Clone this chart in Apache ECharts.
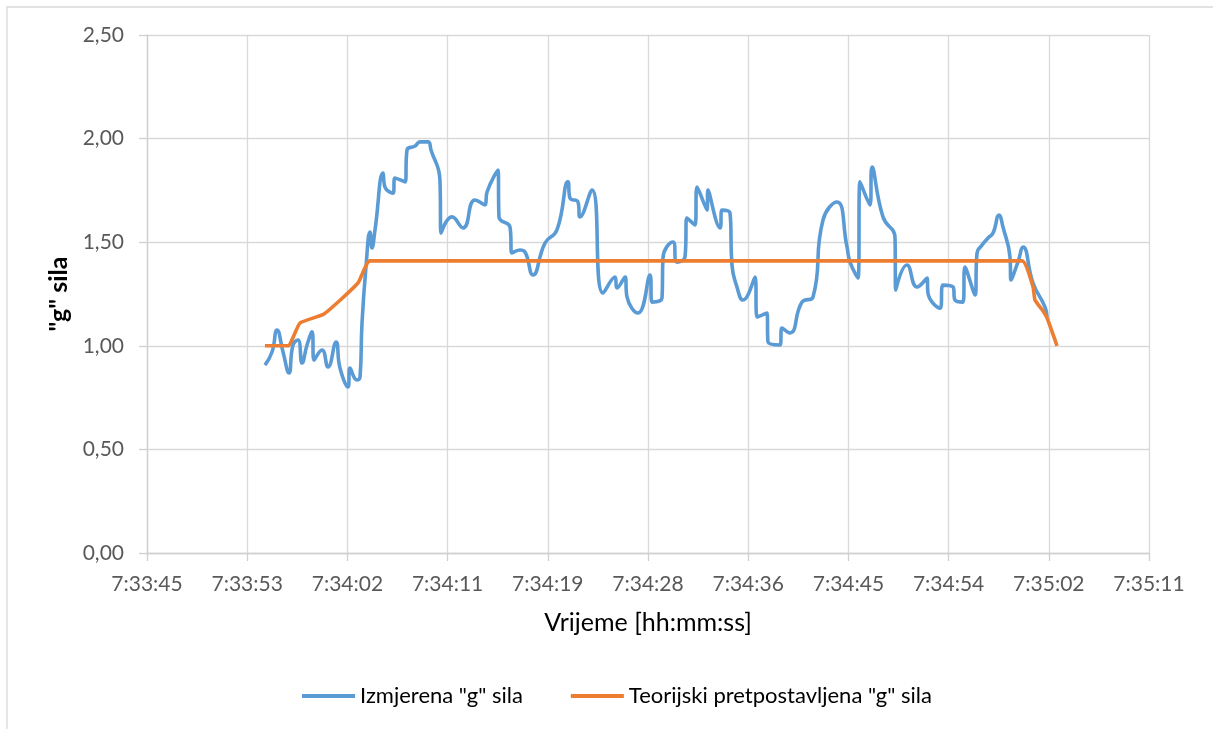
<!DOCTYPE html>
<html>
<head>
<meta charset="utf-8">
<script src="https://cdn.jsdelivr.net/npm/echarts@6/dist/echarts.min.js"></script>
<style>
  html, body { margin: 0; padding: 0; background: #fff; }
  #chart { width: 1213px; height: 729px; }
</style>
</head>
<body>
<div id="chart"></div>
<script>
// vrijeme u sekundama od 7:33:44.64 (pocetak osi)
var tickLabels = ['7:33:45', '7:33:53', '7:34:02', '7:34:11', '7:34:19', '7:34:28',
  '7:34:36', '7:34:45', '7:34:54', '7:35:02', '7:35:11'];

var measuredTime = [10.17, 10.78, 11.21, 11.73, 12.24, 12.59, 13.02, 13.37, 13.80, 14.23,
  14.40, 15.09, 15.61, 16.30, 16.64, 17.33, 17.50, 18.11, 18.37, 18.54,
  18.88, 19.23, 19.40, 19.66, 20.35, 20.52, 21.21, 21.38, 22.25, 22.42,
  23.11, 23.54, 24.23, 24.49, 25.26, 25.35, 26.30, 27.25, 28.28, 29.15,
  29.32, 30.27, 30.35, 31.30, 31.47, 32.16, 32.59, 33.28, 34.32, 35.35,
  36.30, 36.47, 37.16, 37.34, 38.37, 39.32, 40.35, 40.53, 41.22, 41.39,
  42.34, 43.37, 43.55, 44.41, 44.49, 45.36, 45.70, 46.39, 46.56, 47.25,
  47.43, 48.29, 48.37, 49.41, 49.58, 50.27, 50.44, 50.87, 51.39, 52.43,
  52.60, 53.46, 53.55, 54.58, 54.75, 55.44, 56.48, 57.43, 58.29, 59.50,
  60.36, 60.62, 61.31, 61.48, 62.34, 62.52, 63.46, 64.50, 64.55, 65.53,
  66.40, 67.26, 67.34, 68.38, 68.64, 69.50, 69.67, 70.36, 70.53, 71.40,
  71.57, 72.00, 72.52, 72.95, 73.47, 73.81, 74.41, 74.50, 75.10, 75.54,
  76.40, 77.43, 77.61];
var measuredG = [0.907, 0.970, 1.076, 0.970, 0.869, 1.004, 1.028, 0.917, 1.004, 1.067,
  0.931, 0.980, 0.898, 1.018, 0.893, 0.801, 0.893, 0.835, 0.849, 1.110,
  1.380, 1.549, 1.472, 1.559, 1.834, 1.766, 1.737, 1.810, 1.791, 1.945,
  1.964, 1.984, 1.984, 1.945, 1.800, 1.544, 1.622, 1.569, 1.704, 1.680,
  1.742, 1.848, 1.622, 1.573, 1.448, 1.462, 1.453, 1.342, 1.496, 1.559,
  1.791, 1.713, 1.694, 1.622, 1.752, 1.255, 1.332, 1.279, 1.332, 1.236,
  1.158, 1.342, 1.211, 1.231, 1.424, 1.501, 1.404, 1.429, 1.617, 1.583,
  1.766, 1.655, 1.752, 1.569, 1.655, 1.641, 1.390, 1.284, 1.221, 1.332,
  1.139, 1.158, 1.018, 1.004, 1.086, 1.062, 1.211, 1.236, 1.607, 1.694,
  1.477, 1.404, 1.327, 1.791, 1.680, 1.863, 1.622, 1.520, 1.269, 1.390,
  1.284, 1.327, 1.255, 1.182, 1.293, 1.284, 1.221, 1.211, 1.380, 1.245,
  1.448, 1.486, 1.520, 1.544, 1.631, 1.573, 1.429, 1.318, 1.404, 1.477,
  1.303, 1.187, 1.139];

var theoryTime = [10.17, 12.16, 13.19, 15.26, 18.19, 19.23, 75.45, 76.40, 76.57, 77.26, 77.61, 78.47];
var theoryG = [1.00, 1.00, 1.11, 1.153, 1.303, 1.41, 1.41, 1.284, 1.221, 1.168, 1.134, 1.00];

function pairs(xs, ys) {
  return xs.map(function (x, i) { return [x, ys[i]]; });
}

var myChart = echarts.init(document.getElementById('chart'));
myChart.setOption({
  animation: false,
  textStyle: { fontFamily: 'Lato' },
  graphic: [{
    type: 'rect',
    shape: { x: 7, y: 7, width: 1400, height: 900 },
    style: { fill: null, stroke: '#d9d9d9', lineWidth: 1.3 },
    silent: true
  }],
  grid: { left: 147, right: 64, top: 35, bottom: 176 },
  legend: {
    bottom: 17,
    left: 297,
    icon: 'rect',
    itemWidth: 53,
    itemHeight: 4,
    itemGap: 48,
    textStyle: { fontSize: 22, color: '#000', fontFamily: 'Lato' },
    data: ['Izmjerena "g" sila', 'Teorijski pretpostavljena "g" sila']
  },
  xAxis: {
    type: 'value',
    min: 0,
    max: 86.4,
    interval: 8.64,
    name: 'Vrijeme [hh:mm:ss]',
    nameLocation: 'middle',
    nameGap: 57,
    nameTextStyle: { fontSize: 25, color: '#000' },
    axisLine: { lineStyle: { color: '#d0d0d0', width: 1.3 } },
    axisTick: { show: true, length: 8, lineStyle: { color: '#d0d0d0', width: 1.3 } },
    axisLabel: {
      margin: 21,
      fontSize: 21,
      color: '#595959',
      formatter: function (v) { return tickLabels[Math.round(v / 8.64)]; }
    },
    splitLine: { show: true, lineStyle: { color: '#d9d9d9', width: 1.3 } }
  },
  yAxis: {
    type: 'value',
    min: 0,
    max: 2.5,
    interval: 0.5,
    name: '"g" sila',
    nameLocation: 'middle',
    nameRotate: 90,
    nameGap: 75,
    nameTextStyle: { fontSize: 25, fontWeight: 'bold', color: '#000' },
    axisLine: { show: true, lineStyle: { color: '#d0d0d0', width: 1.3 } },
    axisTick: { show: true, length: 8, lineStyle: { color: '#d0d0d0', width: 1.3 } },
    axisLabel: {
      margin: 23,
      fontSize: 21,
      color: '#595959',
      formatter: function (v) { return v.toFixed(2).replace('.', ','); }
    },
    splitLine: { show: true, lineStyle: { color: '#d9d9d9', width: 1.3 } }
  },
  series: [
    {
      name: 'Izmjerena "g" sila',
      type: 'line',
      showSymbol: false,
      smooth: 0.5,
      color: '#5b9bd5',
      lineStyle: { width: 3.6, color: '#5b9bd5' },
      data: pairs(measuredTime, measuredG)
    },
    {
      name: 'Teorijski pretpostavljena "g" sila',
      type: 'line',
      showSymbol: false,
      smooth: 0.15,
      color: '#ed7d31',
      lineStyle: { width: 3.6, color: '#ed7d31' },
      data: pairs(theoryTime, theoryG)
    }
  ]
});
</script>
</body>
</html>
